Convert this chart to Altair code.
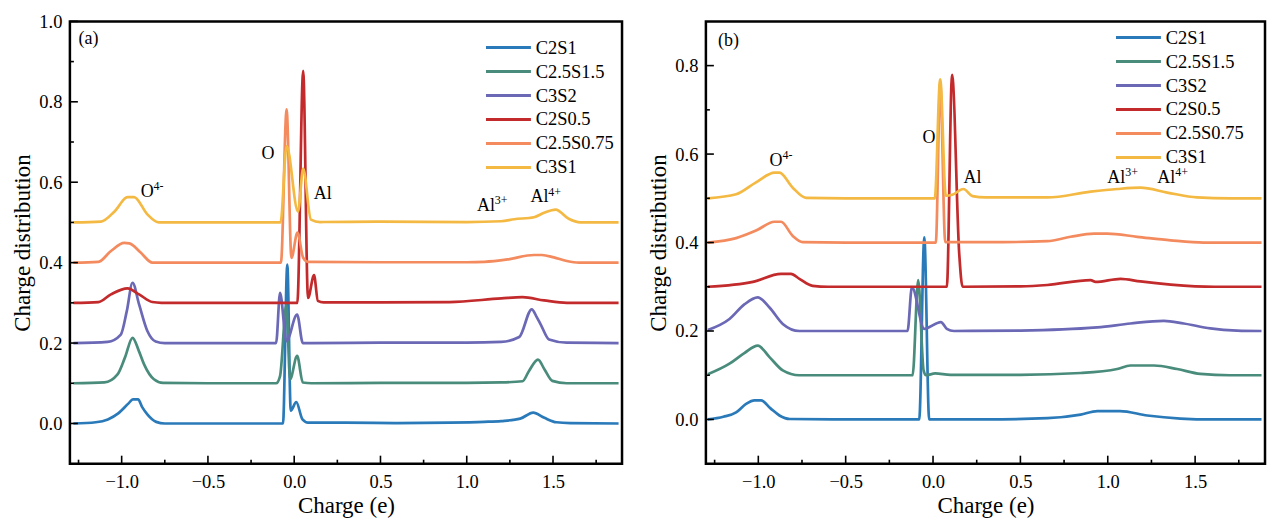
import altair as alt
import pandas as pd

FONT = "Liberation Serif"
SERIES = ["C2S1", "C2.5S1.5", "C3S2", "C2S0.5", "C2.5S0.75", "C3S1"]
COLORS = ["#2a7ab9", "#4a8c7c", "#6b68b6", "#c22a2c", "#f38b5f", "#f4b942"]

X_DOMAIN = [-1.3, 1.9]
X_MAJOR = [-1.0, -0.5, 0.0, 0.5, 1.0, 1.5]
X_MINOR = [-1.25, -0.75, -0.25, 0.25, 0.75, 1.25, 1.75]

A_Y_DOMAIN = [-0.1, 1.0]
A_Y_MAJOR = [0.0, 0.2, 0.4, 0.6, 0.8, 1.0]
A_Y_MINOR = [0.1, 0.3, 0.5, 0.7, 0.9]
B_Y_DOMAIN = [-0.1, 0.9]
B_Y_MAJOR = [0.0, 0.2, 0.4, 0.6, 0.8]
B_Y_MINOR = [0.1, 0.3, 0.5, 0.7]

# ---------------- panel (a) ----------------
A_C2S1_X = [-1.28, -1.15, -1.08, -1.02, -0.96, -0.935, -0.905, -0.88, -0.85, -0.80, -0.75, -0.5, -0.2,
            -0.065, -0.04, -0.02, 0.012, 0.048, 0.08, 0.3, 0.6, 0.9, 1.1, 1.2, 1.31, 1.385, 1.45, 1.52, 1.6, 1.88]
A_C2S1_Y = [0.0, 0.003, 0.01, 0.025, 0.05, 0.06, 0.06, 0.04, 0.022, 0.004, 0.0, 0.0, 0.0,
            0.0, 0.395, 0.032, 0.053, 0.01, 0.002, 0.002, 0.001, 0.002, 0.004, 0.006, 0.012, 0.027, 0.014, 0.003, 0.001, 0.0]

A_C25S15_X = [-1.28, -1.1, -1.024, -0.98, -0.937, -0.90, -0.87, -0.813, -0.76, -0.5, -0.105,
              -0.082, -0.045, -0.024, 0.017, 0.05, 0.1, 0.5, 1.0, 1.2, 1.323, 1.36, 1.413, 1.45, 1.496, 1.58, 1.88]
A_C25S15_Y = [0.1, 0.102, 0.122, 0.165, 0.213, 0.18, 0.147, 0.11, 0.101, 0.1, 0.1,
              0.118, 0.295, 0.11, 0.168, 0.102, 0.1, 0.101, 0.101, 0.102, 0.105, 0.13, 0.159, 0.135, 0.106, 0.1, 0.1]

A_C3S2_X = [-1.28, -1.081, -1.005, -0.97, -0.937, -0.899, -0.851, -0.803, -0.75, -0.5, -0.105,
            -0.082, -0.045, 0.017, 0.05, 0.1, 0.5, 1.0, 1.2, 1.304, 1.377, 1.405, 1.429, 1.477, 1.58, 1.88]
A_C3S2_Y = [0.2, 0.203, 0.221, 0.28, 0.35, 0.296, 0.23, 0.204, 0.2, 0.2, 0.2,
            0.325, 0.205, 0.271, 0.2, 0.2, 0.201, 0.201, 0.203, 0.215, 0.284, 0.265, 0.246, 0.209, 0.201, 0.2]

A_C2S05_X = [-1.28, -1.135, -1.062, -0.966, -0.899, -0.822, -0.77, -0.5, 0.018,
             0.052, 0.08, 0.115, 0.137, 0.17, 0.5, 0.9, 1.2, 1.323, 1.448, 1.58, 1.88]
A_C2S05_Y = [0.3, 0.302, 0.321, 0.336, 0.321, 0.302, 0.3, 0.3, 0.3,
             0.877, 0.312, 0.369, 0.305, 0.301, 0.301, 0.302, 0.311, 0.314, 0.306, 0.3, 0.3]

A_C25S075_X = [-1.28, -1.135, -1.062, -0.985, -0.956, -0.89, -0.822, -0.5, -0.077,
               -0.044, -0.016, 0.019, 0.052, 0.08, 0.5, 1.0, 1.103, 1.237, 1.39, 1.436, 1.505, 1.58, 1.65, 1.88]
A_C25S075_Y = [0.4, 0.402, 0.429, 0.449, 0.448, 0.425, 0.4, 0.4, 0.4,
               0.781, 0.412, 0.475, 0.412, 0.402, 0.401, 0.401, 0.402, 0.408, 0.419, 0.419, 0.413, 0.404, 0.4, 0.4]

A_C3S1_X = [-1.28, -1.12, -1.04, -0.966, -0.928, -0.851, -0.784, -0.5, -0.079,
            -0.044, 0.022, 0.052, 0.097, 0.15, 0.5, 1.0, 1.199, 1.275, 1.39, 1.448, 1.515, 1.591, 1.658, 1.88]
A_C3S1_Y = [0.5, 0.502, 0.528, 0.563, 0.563, 0.52, 0.5, 0.5, 0.5,
            0.69, 0.527, 0.634, 0.507, 0.501, 0.502, 0.501, 0.503, 0.508, 0.513, 0.524, 0.532, 0.509, 0.5, 0.5]

A_LABELS = ["(a)", "O", "O", "Al", "Al", "Al"]
A_LABEL_X = [-1.25, -0.89, -0.19, 0.113, 1.06, 1.37]
A_LABEL_Y = [0.955, 0.575, 0.67, 0.57, 0.54, 0.562]
A_SUP = ["4-", "3+", "4+"]
A_SUP_X = [-0.815, 1.163, 1.473]
A_SUP_Y = [0.575, 0.54, 0.562]

# ---------------- panel (b) ----------------
B_C2S1_X = [-1.289, -1.2, -1.127, -1.07, -1.022, -0.984, -0.93, -0.879, -0.82, -0.5, -0.079,
            -0.05, -0.022, 0.3, 0.654, 0.845, 0.94, 1.07, 1.226, 1.416, 1.6, 1.88]
B_C2S1_Y = [0.0, 0.006, 0.016, 0.035, 0.043, 0.043, 0.025, 0.009, 0.001, 0.0, 0.0,
            0.412, 0.0, 0.0, 0.003, 0.011, 0.019, 0.019, 0.009, 0.002, 0.0, 0.0]

B_C25S15_X = [-1.289, -1.165, -1.08, -1.003, -0.936, -0.86, -0.765, -0.5, -0.117,
              -0.085, -0.054, -0.04, 0.012, 0.1, 0.5, 0.845, 1.054, 1.13, 1.265, 1.397, 1.53, 1.7, 1.88]
B_C25S15_Y = [0.102, 0.126, 0.15, 0.167, 0.141, 0.111, 0.1, 0.1, 0.1,
              0.315, 0.111, 0.1, 0.104, 0.101, 0.101, 0.105, 0.114, 0.122, 0.122, 0.114, 0.103, 0.1, 0.1]

B_C3S2_X = [-1.289, -1.165, -1.08, -1.003, -0.936, -0.86, -0.765, -0.5, -0.146,
            -0.121, -0.05, 0.045, 0.079, 0.12, 0.5, 0.94, 1.13, 1.321, 1.435, 1.587, 1.74, 1.88]
B_C3S2_Y = [0.202, 0.227, 0.26, 0.276, 0.253, 0.216, 0.2, 0.2, 0.2,
            0.299, 0.205, 0.22, 0.205, 0.2, 0.201, 0.208, 0.217, 0.223, 0.217, 0.206, 0.201, 0.2]

B_C2S05_X = [-1.289, -1.031, -0.87, -0.813, -0.765, -0.689, -0.6, 0.079,
             0.109, 0.15, 0.169, 0.5, 0.654, 0.902, 0.93, 1.073, 1.187, 1.36, 1.61, 1.88]
B_C2S05_Y = [0.3, 0.311, 0.329, 0.329, 0.318, 0.302, 0.3, 0.3,
             0.779, 0.374, 0.3, 0.301, 0.304, 0.315, 0.311, 0.318, 0.312, 0.305, 0.3, 0.3]

B_C25S075_X = [-1.289, -1.127, -1.013, -0.907, -0.87, -0.803, -0.746, -0.5, 0.016,
               0.041, 0.07, 0.4, 0.654, 0.787, 0.921, 0.997, 1.169, 1.36, 1.55, 1.88]
B_C25S075_Y = [0.4, 0.41, 0.427, 0.447, 0.447, 0.415, 0.401, 0.4, 0.4,
               0.762, 0.401, 0.401, 0.403, 0.413, 0.42, 0.42, 0.413, 0.405, 0.4, 0.4]

B_C3S1_X = [-1.289, -1.127, -1.013, -0.907, -0.879, -0.803, -0.727, -0.5, 0.01,
            0.041, 0.073, 0.11, 0.174, 0.226, 0.3, 0.654, 0.902, 1.054, 1.187, 1.34, 1.511, 1.7, 1.88]
B_C3S1_Y = [0.5, 0.509, 0.536, 0.558, 0.558, 0.524, 0.501, 0.5, 0.5,
            0.769, 0.506, 0.508, 0.521, 0.505, 0.502, 0.502, 0.515, 0.521, 0.524, 0.513, 0.502, 0.5, 0.5]

B_LABELS = ["(b)", "O", "O", "Al", "Al", "Al"]
B_LABEL_X = [-1.23, -0.936, -0.06, 0.174, 0.997, 1.283]
B_LABEL_Y = [0.855, 0.585, 0.637, 0.547, 0.545, 0.545]
B_SUP = ["4-", "3+", "4+"]
B_SUP_X = [-0.862, 1.100, 1.386]
B_SUP_Y = [0.585, 0.545, 0.545]

A_SERIES = [(A_C2S1_X, A_C2S1_Y), (A_C25S15_X, A_C25S15_Y), (A_C3S2_X, A_C3S2_Y),
            (A_C2S05_X, A_C2S05_Y), (A_C25S075_X, A_C25S075_Y), (A_C3S1_X, A_C3S1_Y)]
B_SERIES = [(B_C2S1_X, B_C2S1_Y), (B_C25S15_X, B_C25S15_Y), (B_C3S2_X, B_C3S2_Y),
            (B_C2S05_X, B_C2S05_Y), (B_C25S075_X, B_C25S075_Y), (B_C3S1_X, B_C3S1_Y)]


def panel(series_xy, ydom, ymaj, ymin, labels, lab_x, lab_y, sups, sup_x, sup_y, w, h, lx, ly):
    rows = []
    for name, (xs, ys) in zip(SERIES, series_xy):
        for i, (a, b) in enumerate(zip(xs, ys)):
            rows.append({"series": name, "x": a, "y": b, "i": i})
    df = pd.DataFrame(rows)

    xscale = alt.Scale(domain=X_DOMAIN, nice=False, zero=False)
    yscale = alt.Scale(domain=ydom, nice=False, zero=False)
    xaxis = alt.Axis(values=X_MAJOR, format=".1f", ticks=False, domain=False, grid=False,
                     title="Charge (e)", labelPadding=9, titlePadding=3)
    yaxis = alt.Axis(values=ymaj, format=".1f", ticks=False, domain=False, grid=False,
                     title="Charge distribution", labelPadding=8, titlePadding=4)

    lines = alt.Chart(df).mark_line(strokeWidth=2.7, strokeJoin="round", interpolate="monotone").encode(
        x=alt.X("x:Q", scale=xscale, axis=xaxis),
        y=alt.Y("y:Q", scale=yscale, axis=yaxis),
        color=alt.Color("series:N", scale=alt.Scale(domain=SERIES, range=COLORS),
                        legend=alt.Legend(title=None, orient="none", legendX=lx, legendY=ly,
                                          symbolType="M-3,0H3", symbolSize=225,
                                          symbolStrokeWidth=3, labelOffset=18, rowPadding=5,
                                          padding=0)),
        order="i:Q",
    )

    xt_major = alt.Chart(pd.DataFrame({"x": X_MAJOR})).mark_rule(color="black", strokeWidth=1.6).encode(
        x=alt.X("x:Q", scale=xscale, axis=xaxis), y=alt.value(h), y2=alt.value(h - 8))
    xt_minor = alt.Chart(pd.DataFrame({"x": X_MINOR})).mark_rule(color="black", strokeWidth=1.6).encode(
        x=alt.X("x:Q", scale=xscale, axis=xaxis), y=alt.value(h), y2=alt.value(h - 4))
    yt_major = alt.Chart(pd.DataFrame({"y": ymaj})).mark_rule(color="black", strokeWidth=1.6).encode(
        y=alt.Y("y:Q", scale=yscale, axis=yaxis), x=alt.value(0), x2=alt.value(8))
    yt_minor = alt.Chart(pd.DataFrame({"y": ymin})).mark_rule(color="black", strokeWidth=1.6).encode(
        y=alt.Y("y:Q", scale=yscale, axis=yaxis), x=alt.value(0), x2=alt.value(4))

    ann = pd.DataFrame({"t": labels, "x": lab_x, "y": lab_y})
    text = alt.Chart(ann).mark_text(font=FONT, fontSize=18, align="left", baseline="middle",
                                    color="black").encode(
        x=alt.X("x:Q", scale=xscale, axis=xaxis),
        y=alt.Y("y:Q", scale=yscale, axis=yaxis),
        text="t:N",
    )
    sup = pd.DataFrame({"t": sups, "x": sup_x, "y": sup_y})
    sup_text = alt.Chart(sup).mark_text(font=FONT, fontSize=12, align="left", baseline="middle",
                                        dy=-6, color="black").encode(
        x=alt.X("x:Q", scale=xscale, axis=xaxis),
        y=alt.Y("y:Q", scale=yscale, axis=yaxis),
        text="t:N",
    )
    return alt.layer(lines, xt_major, xt_minor, yt_major, yt_minor, text, sup_text).properties(width=w, height=h)


left = panel(A_SERIES, A_Y_DOMAIN, A_Y_MAJOR, A_Y_MINOR, A_LABELS, A_LABEL_X, A_LABEL_Y,
             A_SUP, A_SUP_X, A_SUP_Y, 553, 443, 430, 17)
right = panel(B_SERIES, B_Y_DOMAIN, B_Y_MAJOR, B_Y_MINOR, B_LABELS, B_LABEL_X, B_LABEL_Y,
              B_SUP, B_SUP_X, B_SUP_Y, 560, 443, 424, 7)

chart = (
    alt.hconcat(left, right, spacing=22)
    .resolve_scale(color="independent")
    .resolve_legend(color="independent")
    .properties(padding={"left": 2, "top": 2, "right": 2, "bottom": 2}, background="white")
    .configure_view(stroke="black", strokeWidth=2.5)
    .configure_axis(labelFont=FONT, labelFontSize=18.5, labelColor="black",
                    titleFont=FONT, titleFontSize=23, titleFontWeight="normal", titleColor="black")
    .configure_legend(labelFont=FONT, labelFontSize=18.5, labelColor="black")
)

chart.save("out.html", embed_options={"renderer": "svg", "actions": False})
